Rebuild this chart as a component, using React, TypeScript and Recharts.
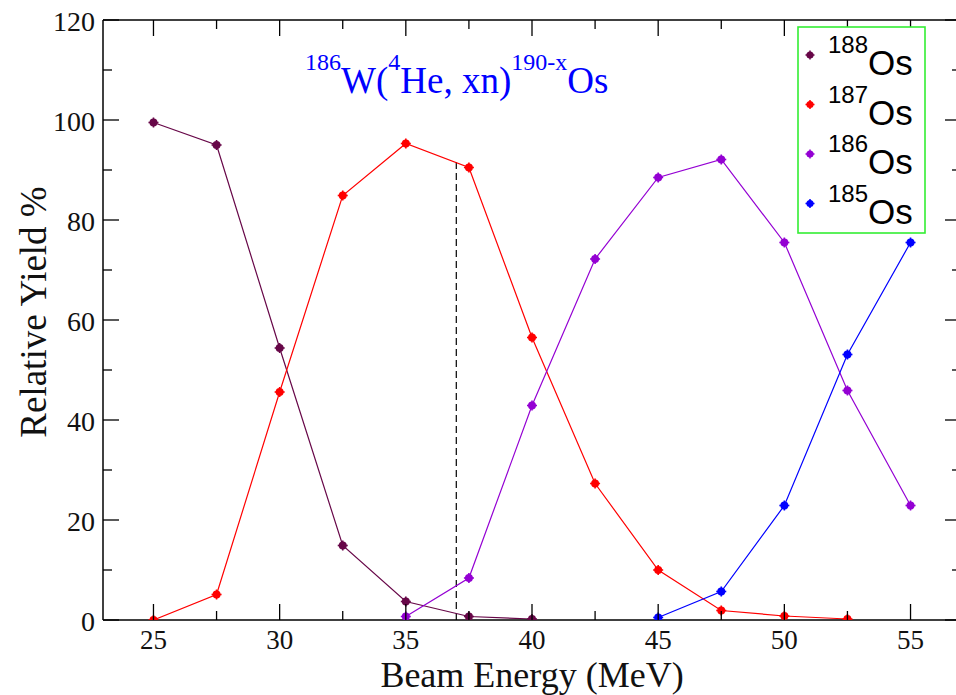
import { LineChart, Line, XAxis, YAxis, ReferenceLine, Legend } from 'recharts';

// beam energy (MeV) and relative yields (%)
const energies = [25, 27.5, 30, 32.5, 35, 37.5, 40, 42.5, 45, 47.5, 50, 52.5, 55];
const os188 = [99.5, 95, 54.4, 14.9, 3.7, 0.7, 0.2, null, null, null, null, null, null];
const os187 = [0, 5.1, 45.6, 84.9, 95.3, 90.5, 56.5, 27.3, 10, 1.9, 0.8, 0.2, null];
const os186 = [null, null, null, null, 0.7, 8.4, 42.9, 72.2, 88.5, 92.1, 75.5, 45.9, 22.9];
const os185 = [null, null, null, null, null, null, null, null, 0.5, 5.7, 22.9, 53.1, 75.5];

const isotopes = ['188', '187', '186', '185'];
const seriesColors = ['#670748', '#ff0000', '#9400d3', '#0000ff'];

const xTicks = [25, 27.5, 30, 32.5, 35, 37.5, 40, 42.5, 45, 47.5, 50, 52.5, 55];
const yTicks = [0, 10, 20, 30, 40, 50, 60, 70, 80, 90, 100, 110, 120];
const xDomain = [23, 57];
const yDomain = [0, 120];

// dashed marker line at 37 MeV
const markerEnergy = 37;
const markerTop = 92;

const data = energies.map((e, i) => ({
  energy: e,
  '188': os188[i],
  '187': os187[i],
  '186': os186[i],
  '185': os185[i],
}));

const CHART_W = 961;
const CHART_H = 695;
const MARGIN = { top: 20, right: 0, bottom: 0, left: 0 };
const Y_AXIS_W = 103;
const X_AXIS_H = 75;
const PLOT_W = CHART_W - Y_AXIS_W - MARGIN.right;
const PLOT_H = CHART_H - MARGIN.top - X_AXIS_H;

const SERIF = '"Liberation Serif", "Times New Roman", serif';
const SANS = '"Liberation Sans", Arial, sans-serif';
const MAJOR = 16;
const MINOR = 9;

const XTick = (props: any) => {
  const { x, y, payload } = props;
  const v = payload.value;
  const major = v % 5 === 0;
  const len = major ? MAJOR : MINOR;
  const top = y - PLOT_H;
  return (
    <g>
      <line x1={x} y1={y} x2={x} y2={y - len} stroke="#000" strokeWidth={1.3} />
      <line x1={x} y1={top} x2={x} y2={top + len} stroke="#000" strokeWidth={1.3} />
      {major && (
        <text x={x} y={y + 29} textAnchor="middle" fontFamily={SERIF} fontSize={27} fill="#111">
          {v}
        </text>
      )}
    </g>
  );
};

const YTick = (props: any) => {
  const { x, y, payload } = props;
  const v = payload.value;
  const major = v % 20 === 0;
  const len = major ? MAJOR : MINOR;
  const right = x + PLOT_W;
  return (
    <g>
      <line x1={x} y1={y} x2={x + len} y2={y} stroke="#000" strokeWidth={1.3} />
      <line x1={right} y1={y} x2={right - len} y2={y} stroke="#000" strokeWidth={1.3} />
      {major && (
        <text x={x - 8} y={y + 10.5} textAnchor="end" fontFamily={SERIF} fontSize={28} fill="#111">
          {v}
        </text>
      )}
    </g>
  );
};

const makeDot = (color: string) => (props: any) => {
  const { cx, cy, index } = props;
  if (cx == null || cy == null) return <g key={`d-${index}`} />;
  return (
    <g key={`d-${index}`}>
      <circle cx={cx} cy={cy} r={4} fill={color} />
      <line x1={cx - 5} y1={cy} x2={cx + 5} y2={cy} stroke={color} strokeWidth={1.6} />
      <line x1={cx} y1={cy - 5} x2={cx} y2={cy + 5} stroke={color} strokeWidth={1.6} />
    </g>
  );
};

const LegendBox = (props: any) => {
  const payload = [...(props.payload || [])].sort(
    (a: any, b: any) => isotopes.indexOf(a.value) - isotopes.indexOf(b.value)
  );
  return (
    <svg width={130} height={209} style={{ display: 'block' }}>
      <rect x={1} y={1} width={127} height={206} fill="#fff" stroke="#33ee33" strokeWidth={1.6} />
      {payload.map((p: any, i: number) => {
        const cy = 29 + i * 49.5;
        return (
          <g key={p.value}>
            <circle cx={13} cy={cy} r={3.6} fill={p.color} />
            <line x1={8.5} y1={cy} x2={17.5} y2={cy} stroke={p.color} strokeWidth={1.5} />
            <line x1={13} y1={cy - 4.5} x2={13} y2={cy + 4.5} stroke={p.color} strokeWidth={1.5} />
            <text x={31} y={cy - 2} fontFamily={SANS} fill="#000">
              <tspan fontSize={24}>{p.value}</tspan>
              <tspan fontSize={35} dy={22}>Os</tspan>
            </text>
          </g>
        );
      })}
    </svg>
  );
};

export default function App() {
  return (
    <div style={{ position: 'absolute', left: 0, top: 0, width: 956, height: 695, overflow: 'hidden', background: '#fff' }}>
      <LineChart width={CHART_W} height={CHART_H} data={data} margin={MARGIN}>
        <XAxis
          dataKey="energy"
          type="number"
          domain={xDomain}
          ticks={xTicks}
          interval={0}
          height={X_AXIS_H}
          tickSize={0}
          tickMargin={0}
          tick={<XTick />}
          tickLine={false}
          axisLine={{ stroke: '#000', strokeWidth: 1.5 }}
          allowDataOverflow
          label={{
            content: (p: any) => {
              const vb = p.viewBox;
              return (
                <text x={vb.x + vb.width / 2} y={vb.y + 67} textAnchor="middle" fontFamily={SERIF} fontSize={36} fill="#111">
                  Beam Energy (MeV)
                </text>
              );
            },
          }}
        />
        <YAxis
          type="number"
          domain={yDomain}
          ticks={yTicks}
          interval={0}
          width={Y_AXIS_W}
          tickSize={0}
          tickMargin={0}
          tick={<YTick />}
          tickLine={false}
          axisLine={{ stroke: '#000', strokeWidth: 1.5 }}
          allowDataOverflow
          label={{
            content: (p: any) => {
              const vb = p.viewBox;
              const cx = 46;
              const cy = vb.y + vb.height / 2 - 8;
              return (
                <text x={cx} y={cy} transform={`rotate(-90, ${cx}, ${cy})`} textAnchor="middle" fontFamily={SERIF} fontSize={37} fill="#111">
                  Relative Yield %
                </text>
              );
            },
          }}
        />
        <ReferenceLine y={yDomain[1]} stroke="#000" strokeWidth={1.5} />
        <ReferenceLine x={xDomain[1]} stroke="#000" strokeWidth={1.5} />
        <ReferenceLine
          segment={[{ x: markerEnergy, y: 0 }, { x: markerEnergy, y: markerTop }]}
          stroke="#000"
          strokeWidth={1.2}
          strokeDasharray="7 4"
        />
        {isotopes.map((iso, i) => (
          <Line
            key={iso}
            dataKey={iso}
            name={iso}
            stroke={seriesColors[i]}
            strokeWidth={1.2}
            dot={makeDot(seriesColors[i])}
            activeDot={false}
            isAnimationActive={false}
            connectNulls={false}
          />
        ))}
        <Legend
          layout="horizontal"
          verticalAlign="middle"
          align="center"
          content={<LegendBox />}
          wrapperStyle={{ position: 'absolute', left: 797, top: 26, width: 130, height: 209 }}
        />
      </LineChart>
      <svg width={956} height={695} style={{ position: 'absolute', left: 0, top: 0, pointerEvents: 'none' }}>
        <text x={305} y={93} fontFamily={SERIF} fill="#0000ff">
          <tspan fontSize={24} dy={-23}>186</tspan>
          <tspan fontSize={37} dy={23}>W(</tspan>
          <tspan fontSize={24} dy={-23}>4</tspan>
          <tspan fontSize={37} dy={23}>He, xn)</tspan>
          <tspan fontSize={24} dy={-23}>190-x</tspan>
          <tspan fontSize={37} dy={23}>Os</tspan>
        </text>
      </svg>
    </div>
  );
}
